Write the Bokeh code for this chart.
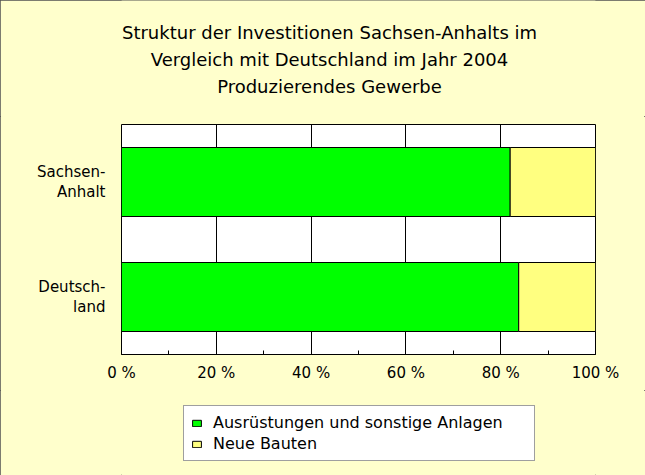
from bokeh.plotting import figure
from bokeh.models import Range1d, FixedTicker, Legend, LegendItem, Label
from bokeh.layouts import column
from bokeh.embed import file_html
from bokeh.resources import INLINE

# ---- data ----
categories = ["Sachsen-Anhalt", "Deutschland"]
category_labels = ["Sachsen-\nAnhalt", "Deutsch-\nland"]
ausruestungen = [82.0, 83.8]          # Ausrüstungen und sonstige Anlagen (%)
neue_bauten = [18.0, 16.2]            # Neue Bauten (%)
series_names = ["Ausrüstungen und sonstige Anlagen", "Neue Bauten"]
x_ticks = [0, 20, 40, 60, 80, 100]
x_minor_ticks = [10, 30, 50, 70, 90]
x_tick_labels = ["0 %", "20 %", "40 %", "60 %", "80 %", "100 %"]
title_lines = [
    "Struktur der Investitionen Sachsen-Anhalts im",
    "Vergleich mit Deutschland im Jahr 2004",
    "Produzierendes Gewerbe",
]

FONT = "DejaVu Sans"
BG = "#FFFFCC"
W = 645
LEFT, RIGHT = 121, 50        # side borders (frames of the stacked figures align)
n = len(categories)
y_pos = [n - i - 0.5 for i in range(n)]
stack_right = [a + b for a, b in zip(ausruestungen, neue_bauten)]

common = dict(output_backend="svg", toolbar_location=None, title=None,
              min_border_left=LEFT, min_border_right=RIGHT,
              border_fill_color=BG)

# ---------- title strip ----------
TH = 116
tf = figure(width=W, height=TH, x_range=Range1d(LEFT, W - RIGHT),
            y_range=Range1d(0, TH), x_axis_type=None, y_axis_type=None,
            min_border_top=0, min_border_bottom=0,
            background_fill_color=BG, outline_line_color=None, **common)
tf.grid.visible = False
title_baselines = [TH - 32, TH - 59, TH - 86]
for txt, ty in zip(title_lines, title_baselines):
    tf.add_layout(Label(x=329, y=ty, text=txt, text_align="center",
                        text_baseline="alphabetic", text_font=FONT,
                        text_font_size="18px", text_color="black"))

# ---------- main chart ----------
PH = 274
p = figure(width=W, height=PH,
           x_range=Range1d(0, 100), y_range=Range1d(0, n),
           min_border_top=8, min_border_bottom=36,
           background_fill_color="white",
           outline_line_color="black", outline_line_width=1, **common)

r1 = p.hbar(y=y_pos, left=0, right=ausruestungen, height=0.6,
            fill_color="#00FF00", line_color="black", line_width=1)
r2 = p.hbar(y=y_pos, left=ausruestungen, right=stack_right, height=0.6,
            fill_color="#FFFF80", line_color="black", line_width=1)

xa = p.xaxis[0]
xa.ticker = FixedTicker(ticks=x_ticks, minor_ticks=x_minor_ticks)
xa.major_label_overrides = dict(zip(x_ticks, x_tick_labels))
xa.major_label_text_font = FONT
xa.major_label_text_font_size = "15px"
xa.major_label_text_color = "black"
xa.axis_line_color = "black"
xa.major_tick_in = 4
xa.major_tick_out = 0
xa.minor_tick_in = 4
xa.minor_tick_out = 0
xa.major_tick_line_color = "black"
xa.minor_tick_line_color = "black"
xa.major_label_standoff = 9

ya = p.yaxis[0]
ya.ticker = FixedTicker(ticks=y_pos)
ya.major_label_overrides = dict(zip(y_pos, category_labels))
ya.major_label_text_font = FONT
ya.major_label_text_font_size = "15px"
ya.major_label_text_color = "black"
ya.major_label_text_line_height = 1.12
ya.axis_line_color = None
ya.major_tick_line_color = None
ya.minor_tick_line_color = None
ya.major_label_standoff = 10

p.xgrid.ticker = FixedTicker(ticks=x_ticks)
p.xgrid.grid_line_color = "black"
p.ygrid.grid_line_color = None

# ---------- legend strip ----------
LH = 475 - TH - PH
lf = figure(width=W, height=LH, x_range=Range1d(0, 100), y_range=Range1d(10, 20),
            x_axis_type=None, y_axis_type=None,
            min_border_top=0, min_border_bottom=0,
            background_fill_color=BG, outline_line_color=None, **common)
lf.grid.visible = False
# legend swatches use the same series (bars lie outside this strip's view)
l1 = lf.hbar(y=y_pos, left=0, right=ausruestungen, height=0.6,
             fill_color="#00FF00", line_color="black", line_width=1)
l2 = lf.hbar(y=y_pos, left=ausruestungen, right=stack_right, height=0.6,
             fill_color="#FFFF80", line_color="black", line_width=1)
legend = Legend(items=[LegendItem(label=series_names[0], renderers=[l1]),
                       LegendItem(label=series_names[1], renderers=[l2])],
                location=(183 - LEFT, LH - (461 - (TH + PH))),
                orientation="vertical",
                label_text_font=FONT, label_text_font_size="16px",
                label_text_color="black",
                glyph_width=11, glyph_height=8, label_standoff=11,
                label_width=314, label_height=18, spacing=2, padding=7,
                margin=0, border_line_color="#404040", border_line_width=1,
                background_fill_color="white", background_fill_alpha=1.0)
lf.add_layout(legend)

layout = column(tf, p, lf, spacing=0)
layout.styles = {"outline": "1px solid #505050", "outline-offset": "-1px",
                 "background-color": BG}

open("out.html", "w").write(file_html(layout, INLINE))
